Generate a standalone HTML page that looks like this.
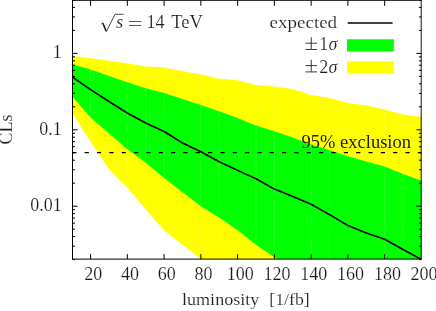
<!DOCTYPE html>
<html><head><meta charset="utf-8"><style>
html,body{margin:0;padding:0;background:#fff;}
body{width:436px;height:311px;overflow:hidden;}
svg{display:block;will-change:transform;}
text{font-family:"Liberation Serif",serif;font-size:17.5px;fill:#1c1c1c;}
.w text{stroke:#fff;stroke-width:0.15px;}
</style></head><body>
<svg width="436" height="311" viewBox="0 0 436 311">
<defs><clipPath id="cy"><polygon points="72.2,56.1 90.6,58.2 109.0,60.7 127.3,63.2 145.7,66.4 164.1,67.4 182.5,71.0 200.9,74.4 219.2,78.7 237.6,80.2 256.0,84.9 274.4,86.6 292.8,89.0 311.1,95.0 329.5,98.0 347.9,103.0 366.3,105.5 384.7,109.5 403.0,114.5 421.4,117.0 421.4,300.0 219.2,300.0 219.2,273.0 200.9,259.0 182.5,244.8 164.1,230.5 145.7,209.3 127.3,187.4 109.0,169.3 90.6,141.8 72.2,113.0"/></clipPath><clipPath id="c"><rect x="72.5" y="0" width="348.9" height="259.1"/></clipPath></defs>
<rect width="436" height="311" fill="#fff"/>
<g clip-path="url(#c)">
<polygon points="72.2,56.1 90.6,58.2 109.0,60.7 127.3,63.2 145.7,66.4 164.1,67.4 182.5,71.0 200.9,74.4 219.2,78.7 237.6,80.2 256.0,84.9 274.4,86.6 292.8,89.0 311.1,95.0 329.5,98.0 347.9,103.0 366.3,105.5 384.7,109.5 403.0,114.5 421.4,117.0 421.4,300.0 219.2,300.0 219.2,273.0 200.9,259.0 182.5,244.8 164.1,230.5 145.7,209.3 127.3,187.4 109.0,169.3 90.6,141.8 72.2,113.0" fill="#ffff00"/>
<polygon points="72.2,64.2 90.6,69.5 109.0,75.9 127.3,82.3 145.7,88.3 164.1,93.0 182.5,99.0 200.9,105.0 219.2,111.3 237.6,118.0 256.0,125.5 274.4,131.3 292.8,137.5 311.1,144.6 329.5,150.0 347.9,156.2 366.3,161.5 384.7,166.5 403.0,174.0 421.4,180.5 421.4,300.0 292.8,300.0 292.8,269.5 274.4,257.3 256.0,244.8 237.6,230.2 219.2,217.5 200.9,206.2 182.5,192.3 164.1,178.0 145.7,162.7 127.3,149.3 109.0,133.5 90.6,117.5 72.2,96.6" fill="#00ff00"/>
<g clip-path="url(#cy)"><path d="M90.58 0V260M127.34 0V260M145.72 0V260M164.10 0V260M200.86 0V260M219.24 0V260M256.00 0V260M274.38 0V260M311.14 0V260M329.52 0V260M384.66 0V260M403.04 0V260" stroke="#fff" stroke-opacity="0.22" stroke-width="0.6" fill="none"/></g>
<polyline points="72.2,76.8 90.6,89.6 109.0,101.5 127.3,113.0 145.7,123.0 164.1,131.5 182.5,143.0 200.9,151.7 219.2,161.7 237.6,170.4 256.0,178.8 274.4,189.1 292.8,196.5 311.1,204.3 329.5,214.6 347.9,225.5 366.3,233.0 384.7,239.2 403.0,249.5 421.4,259.5" fill="none" stroke="#000" stroke-width="1.6" stroke-linejoin="round"/>
<path d="M72.3 152.6H421.4" stroke="#000" stroke-width="1.4" stroke-dasharray="4.2 8.14" fill="none"/>
</g>
<path d="M72.5 259.60h2.5M421.4 259.60h-2.5M72.5 246.15h2.5M421.4 246.15h-2.5M72.5 236.60h2.5M421.4 236.60h-2.5M72.5 229.20h2.5M421.4 229.20h-2.5M72.5 223.15h2.5M421.4 223.15h-2.5M72.5 218.03h2.5M421.4 218.03h-2.5M72.5 213.60h2.5M421.4 213.60h-2.5M72.5 209.70h2.5M421.4 209.70h-2.5M72.5 206.20h5.0M421.4 206.20h-5.0M72.5 183.20h2.5M421.4 183.20h-2.5M72.5 169.75h2.5M421.4 169.75h-2.5M72.5 160.20h2.5M421.4 160.20h-2.5M72.5 152.80h2.5M421.4 152.80h-2.5M72.5 146.75h2.5M421.4 146.75h-2.5M72.5 141.63h2.5M421.4 141.63h-2.5M72.5 137.20h2.5M421.4 137.20h-2.5M72.5 133.30h2.5M421.4 133.30h-2.5M72.5 129.80h5.0M421.4 129.80h-5.0M72.5 106.80h2.5M421.4 106.80h-2.5M72.5 93.35h2.5M421.4 93.35h-2.5M72.5 83.80h2.5M421.4 83.80h-2.5M72.5 76.40h2.5M421.4 76.40h-2.5M72.5 70.35h2.5M421.4 70.35h-2.5M72.5 65.23h2.5M421.4 65.23h-2.5M72.5 60.80h2.5M421.4 60.80h-2.5M72.5 56.90h2.5M421.4 56.90h-2.5M72.5 53.40h5.0M421.4 53.40h-5.0M72.5 30.40h2.5M421.4 30.40h-2.5M72.5 16.95h2.5M421.4 16.95h-2.5M72.5 7.40h2.5M421.4 7.40h-2.5M72.5 -0.00h2.5M421.4 -0.00h-2.5M90.58 259.1v-5M90.58 0.3v5.5M127.34 259.1v-5M127.34 0.3v5.5M164.10 259.1v-5M164.10 0.3v5.5M200.86 259.1v-5M200.86 0.3v5.5M237.62 259.1v-5M237.62 0.3v5.5M274.38 259.1v-5M274.38 0.3v5.5M311.14 259.1v-5M311.14 0.3v5.5M347.90 259.1v-5M347.90 0.3v5.5M384.66 259.1v-5M384.66 0.3v5.5" stroke="#000" stroke-width="1" fill="none"/>
<path d="M72.5 259.1V0.3M72.0 0.3H421.9M72.0 259.1H421.9" stroke="#000" stroke-width="1" fill="none"/>
<path d="M421.2 0.3V259.1" stroke="#000" stroke-opacity="0.85" stroke-width="1.1" fill="none"/>
<g class="w" opacity="0.999"><text x="93.3" y="280.3" text-anchor="middle" style="font-size:18px">20</text><text x="130.0" y="280.3" text-anchor="middle" style="font-size:18px">40</text><text x="166.8" y="280.3" text-anchor="middle" style="font-size:18px">60</text><text x="203.6" y="280.3" text-anchor="middle" style="font-size:18px">80</text><text x="240.3" y="280.3" text-anchor="middle" style="font-size:18px">100</text><text x="277.1" y="280.3" text-anchor="middle" style="font-size:18px">120</text><text x="313.8" y="280.3" text-anchor="middle" style="font-size:18px">140</text><text x="350.6" y="280.3" text-anchor="middle" style="font-size:18px">160</text><text x="387.4" y="280.3" text-anchor="middle" style="font-size:18px">180</text><text x="424.1" y="280.3" text-anchor="middle" style="font-size:18px">200</text></g>
<g class="w" opacity="0.999">
<text x="61.8" y="58.3" text-anchor="end" style="font-size:18px">1</text>
<text x="61.8" y="134.7" text-anchor="end" style="font-size:18px">0.1</text>
<text x="61.8" y="211.1" text-anchor="end" style="font-size:18px">0.01</text>
<text transform="translate(11.8,144.6) rotate(-90)" textLength="30" lengthAdjust="spacingAndGlyphs" style="font-size:18px">CLs</text>
<text x="182" y="304.5" textLength="77.3" lengthAdjust="spacingAndGlyphs">luminosity</text>
<text x="269.3" y="304.5" textLength="40.5" lengthAdjust="spacingAndGlyphs">[1/fb]</text>
<text x="269.6" y="28.3" textLength="67.5" lengthAdjust="spacingAndGlyphs">expected</text>
<text x="319.2" y="50.1" style="font-size:18px">1<tspan font-style="italic" dx="0.3">σ</tspan></text>
<text x="319.2" y="72.5" style="font-size:18px">2<tspan font-style="italic" dx="0.3">σ</tspan></text>
<path d="M305.5 43.2H317M311.25 37.3V49M305.5 49.5H317" stroke="#222" stroke-width="0.9" fill="none"/>
<path d="M305.5 65.6H317M311.25 59.7V71.4M305.5 71.9H317" stroke="#222" stroke-width="0.9" fill="none"/>
<path d="M101.2 24.1L102.9 22.9L106.3 31.6L115 14.3H123.6" stroke="#222" stroke-width="0.85" fill="none" stroke-linejoin="miter"/><path d="M102.9 23.2L106.1 31" stroke="#222" stroke-width="1.5" fill="none"/><path d="M129 21.5H141.3M129 25.5H141.3" stroke="#222" stroke-width="0.75" fill="none"/>
<text x="116.1" y="28.4" font-style="italic" style="font-size:18.5px">s</text>
<text x="146.6" y="28.4" style="font-size:18px">14</text>
<text x="171.2" y="28.4" textLength="31.6" lengthAdjust="spacingAndGlyphs" style="font-size:18px">TeV</text>
</g>
<path d="M347.7 23H392.6" stroke="#000" stroke-width="1.3"/>
<rect x="347" y="39.3" width="46.8" height="12.3" fill="#00ff00"/>
<rect x="347" y="61.2" width="46.8" height="12.3" fill="#ffff00"/>
<text x="301.5" y="148" textLength="109.5" lengthAdjust="spacingAndGlyphs" fill="#222" style="font-size:18px">95% exclusion</text>
</svg>
</body></html>
